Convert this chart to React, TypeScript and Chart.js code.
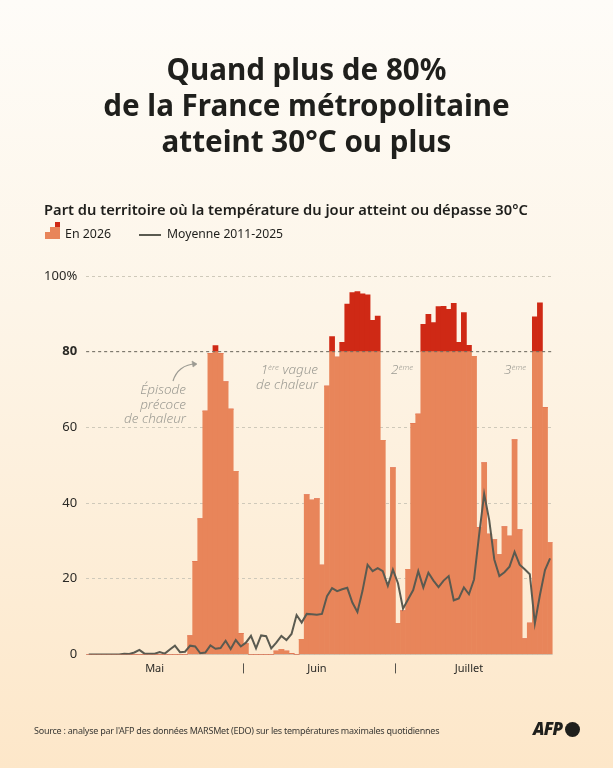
import React, { useEffect, useRef } from "react";
import Chart from "chart.js/auto";

const FONT = '"Noto Sans", sans-serif';
const ORANGE = "#e8855a";
const RED = "#cf2915";
const LINE = "#5a5a50";
const SEUIL = 80;

const months = ["Mai", "Juin", "Juillet"];
const monthDays = [31, 30, 31];
const monthLabelIndex = [13, 45, 75];
const yTicks = [0, 20, 40, 60, 80, 100];

const en2026 = [
  0, 0, 0, 0, 0, 0, 0, 0, 0, 0, 0, 0, 0, 0, 0, 0, 0, 0, 0, 0,
  4.9, 24.5, 35.8, 64.3, 79.5, 81.6, 79.5, 72, 64.8, 48.4, 5.5, 2.8,
  0, 0, 0, 0, 0, 0.9, 1.3, 0.9, 0.2, 0,
  4, 42.2, 40.8, 41.1, 23.6, 70.9, 84, 78.6, 82.5, 92.6, 95.6, 95.9, 95.3, 95, 88.3, 89.4, 56.6,
  19, 49.3, 8.2, 11.5, 22.5,
  61, 63.5, 87.2, 89.9, 87.7, 91.9, 92, 91.2, 92.8, 82.5, 90.3, 81.7, 78.8,
  33.5, 50.6, 31.8, 30.3, 26.4, 33.7, 31.3, 56.7, 32.9, 4.1, 8.3, 89.2, 92.9, 65.2, 29.5,
];

const moyenne = [
  0, 0, 0, 0, 0, 0, 0, 0.2, 0.1, 0.5, 1.2, 0.2, 0.2, 0.2, 0.6, 0.2, 1.3, 2.3, 0.6, 0.7,
  2.3, 2.1, 0.3, 0.5, 2.4, 1.5, 1.7, 3.6, 1.4, 3.8, 2.1, 3.1,
  4.9, 1.6, 5, 4.8, 1.6, 3.1, 4.9, 3.8, 5.4, 10.4, 8.4, 10.7, 10.6, 10.5, 10.7, 15.4, 17.5, 16.7,
  17.2, 17.6, 13.7, 11.2, 16.8, 23.7, 22, 22.8, 22, 18.1, 22.4, 18.8, 12.1, 14.6, 17, 22, 17.7, 21.6,
  19.5, 17.8, 19.5, 20.7, 14.3, 14.8, 17.7, 15.9, 19.8, 31.5, 42.4, 35.5, 25.1, 20.7, 21.7, 23.2,
  27.1, 23.7, 22.5, 21.2, 8.2, 15.7, 22.3, 25.4,
];

const days = months.flatMap((m, i) => Array.from({ length: monthDays[i] }, (_, d) => `${d + 1} ${m}`));

const annotations = {
  id: "annotations",
  afterDatasetsDraw(chart: any) {
    const { ctx, chartArea, scales } = chart;
    const y = scales.y.getPixelForValue(SEUIL);
    ctx.save();
    ctx.strokeStyle = "#6e6a60";
    ctx.lineWidth = 1;
    ctx.setLineDash([3, 3]);
    ctx.beginPath();
    ctx.moveTo(chartArea.left, y);
    ctx.lineTo(chartArea.right, y);
    ctx.stroke();
    ctx.restore();
  },
  afterDraw(chart: any) {
    const { ctx, chartArea, scales } = chart;
    ctx.save();
    ctx.strokeStyle = "#55534c";
    ctx.lineWidth = 1;
    let total = 0;
    monthDays.slice(0, -1).forEach((n) => {
      total += n;
      const x = Math.round((scales.x.getPixelForValue(total - 1) + scales.x.getPixelForValue(total)) / 2) + 0.5;
      ctx.beginPath();
      ctx.moveTo(x, chartArea.bottom + 9);
      ctx.lineTo(x, chartArea.bottom + 19);
      ctx.stroke();
    });
    ctx.restore();
  },
};

const abs = (left: number, top: number, extra: React.CSSProperties = {}): React.CSSProperties => ({
  position: "absolute",
  left,
  top,
  whiteSpace: "nowrap",
  ...extra,
});

const noteStyle: React.CSSProperties = {
  color: "#9c9b93",
  fontStyle: "italic",
  fontWeight: 300,
  fontSize: 13.5,
  lineHeight: "14.5px",
  textAlign: "right",
};

const supStyle: React.CSSProperties = { fontSize: 8, verticalAlign: "4px", lineHeight: 0 };

export default function App() {
  const canvasRef = useRef<HTMLCanvasElement | null>(null);

  useEffect(() => {
    if (!canvasRef.current) return;
    const chart = new Chart(canvasRef.current, {
      type: "bar",
      data: {
        labels: days,
        datasets: [
          {
            type: "line",
            label: "Moyenne 2011-2025",
            data: moyenne,
            borderColor: LINE,
            borderWidth: 2,
            pointRadius: 0,
            tension: 0,
            order: 0,
          } as any,
          {
            label: "En 2026",
            data: en2026.map((v) => Math.min(v, SEUIL)),
            backgroundColor: ORANGE,
            barPercentage: 1,
            categoryPercentage: 1,
            stack: "jour",
            order: 1,
          },
          {
            label: "Au-dessus de 80%",
            data: en2026.map((v) => Math.max(v - SEUIL, 0)),
            backgroundColor: RED,
            barPercentage: 1,
            categoryPercentage: 1,
            stack: "jour",
            order: 1,
          },
        ],
      },
      options: {
        responsive: false,
        animation: false,
        // axis boxes have a fixed size so the plot area lands where the picture has it
        layout: { padding: { left: 36.2, right: 60.4, top: 276, bottom: 83.6 } },
        plugins: { legend: { display: false }, tooltip: { enabled: false } },
        scales: {
          x: {
            stacked: true,
            grid: { display: false },
            border: { display: false },
            afterFit: (s: any) => { s.height = 30; },
            ticks: {
              autoSkip: false,
              maxRotation: 0,
              padding: 0,
              color: "#2b2a26",
              font: { family: FONT, size: 11 },
              callback: (_v: any, i: number) => {
                const m = monthLabelIndex.indexOf(i);
                return m >= 0 ? months[m] : "";
              },
            },
          },
          y: {
            stacked: true,
            min: 0,
            max: 100,
            afterFit: (s: any) => { s.width = 50; },
            afterBuildTicks: (s: any) => { s.ticks = yTicks.map((value) => ({ value })); },
            grid: {
              drawTicks: false,
              color: "#cfc9ba",
              lineWidth: 1,
            },
            border: { display: false, dash: (c: any) => (c.tick?.value === 0 ? [] : [3, 3]) },
            ticks: {
              padding: 9,
              color: "#2b2a26",
              font: (c: any) => ({
                family: FONT,
                size: 13,
                weight: c.tick?.value === SEUIL ? "bold" : "normal",
              }),
              callback: (v: any) => (v === 100 ? "100%" : String(v)),
            },
          },
        },
      },
      plugins: [annotations],
    });
    return () => chart.destroy();
  }, []);

  return (
    <div
      style={{
        position: "absolute",
        left: 0,
        top: 0,
        width: 613,
        height: 768,
        overflow: "hidden",
        fontFamily: FONT,
        color: "#1f1f1c",
        background: "linear-gradient(180deg, #fefcf8 0%, #fdf5e8 40%, #fde7c9 100%)",
      }}
    >
      <canvas ref={canvasRef} width={613} height={768} style={{ position: "absolute", left: 0, top: 0 }} />

      <div style={abs(0, 51, { width: 613, textAlign: "center", fontSize: 29.6, fontWeight: 700, lineHeight: "36px" })}>
        Quand plus de 80%
        <br />
        de la France métropolitaine
        <br />
        atteint 30°C ou plus
      </div>

      <div style={abs(44, 199, { fontSize: 14.7, fontWeight: 600, lineHeight: "20px" })}>
        Part du territoire où la température du jour atteint ou dépasse 30°C
      </div>

      <div style={abs(45, 232, { width: 5, height: 7, background: ORANGE })} />
      <div style={abs(50, 227, { width: 5, height: 12, background: ORANGE })} />
      <div style={abs(55, 227, { width: 5, height: 12, background: ORANGE })} />
      <div style={abs(55, 222, { width: 5, height: 5, background: RED })} />
      <div style={abs(65, 226, { fontSize: 12.4, lineHeight: "16px" })}>En 2026</div>
      <div style={abs(139, 234, { width: 22, height: 1.5, background: LINE })} />
      <div style={abs(167, 226, { fontSize: 12.2, lineHeight: "16px" })}>Moyenne 2011-2025</div>

      <div style={abs(106, 382, { ...noteStyle, width: 80 })}>
        Épisode
        <br />
        précoce
        <br />
        de chaleur
      </div>
      <div style={abs(238, 362, { ...noteStyle, width: 80 })}>
        1<span style={supStyle}>ère</span> vague
        <br />
        de chaleur
      </div>
      <div style={abs(391, 362, { ...noteStyle, textAlign: "left" })}>
        2<span style={supStyle}>ème</span>
      </div>
      <div style={abs(504, 362, { ...noteStyle, textAlign: "left" })}>
        3<span style={supStyle}>ème</span>
      </div>

      <svg width={613} height={768} style={{ position: "absolute", left: 0, top: 0, pointerEvents: "none" }}>
        <path d="M173 381 C176 371 184 364 196 364" fill="none" stroke="#9c9b93" strokeWidth={1.2} />
        <path d="M197 364 L192 361 L193 367 Z" fill="#9c9b93" stroke="#9c9b93" strokeWidth={0.6} />
      </svg>

      <div style={abs(34, 724, { fontSize: 9, letterSpacing: -0.24, lineHeight: "13px", color: "#3a3935" })}>
        Source : analyse par l'AFP des données MARSMet (EDO) sur les températures maximales quotidiennes
      </div>
      <div style={abs(533, 719, { fontSize: 17, fontWeight: 900, fontStyle: "italic", lineHeight: "20px", letterSpacing: -0.8 })}>
        AFP
      </div>
      <div style={abs(565, 721.5, { width: 15, height: 15, borderRadius: "50%", background: "#1f1f1c" })} />
    </div>
  );
}
